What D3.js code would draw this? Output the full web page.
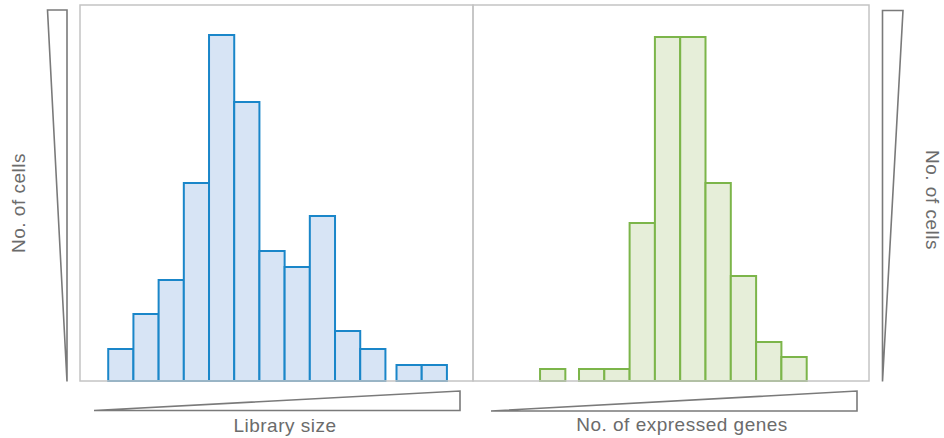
<!DOCTYPE html>
<html>
<head>
<meta charset="utf-8">
<script src="https://cdn.jsdelivr.net/npm/d3@7"></script>
<style>
  html, body { margin: 0; padding: 0; background: #fff; }
  svg { display: block; }
  text { font-family: "Liberation Sans", Arial, Helvetica, sans-serif; fill: #6b6b6b; letter-spacing: 0.5px; }
</style>
</head>
<body>
<svg id="chart" width="944" height="438"></svg>
<script>
// ---- data (bin start in arbitrary units, bin width = 1; counts in arbitrary units) ----
const libraryBinStarts = [1.12, 2.12, 3.12, 4.12, 5.12, 6.12, 7.12, 8.12, 9.12, 10.12, 11.12, 12.56, 13.56];
const libraryCounts    = [32, 67, 101, 198, 346, 279, 130, 114, 165, 50, 32, 16, 16];
const genesBinStarts   = [2.65, 4.19, 5.19, 6.19, 7.19, 8.19, 9.19, 10.19, 11.19, 12.19];
const genesCounts      = [12, 12, 12, 158, 344, 344, 198, 105, 39, 24];
const xLabels = ["Library size", "No. of expressed genes"];
const yLabel = "No. of cells";

const svg = d3.select("#chart");
const plotTop = 5, plotBottom = 381;
const panels = [
  { x0: 80, x1: 473, domainMax: 393 / 25.2, starts: libraryBinStarts, counts: libraryCounts,
    stroke: "#1a86c9", fill: "#d7e4f5", label: xLabels[0] },
  { x0: 473, x1: 869, domainMax: 396 / 25.3, starts: genesBinStarts, counts: genesCounts,
    stroke: "#7cb54a", fill: "#e6eed9", label: xLabels[1] }
];

const y = d3.scaleLinear().domain([0, plotBottom - plotTop]).range([plotBottom, plotTop]);

panels.forEach(p => {
  const x = d3.scaleLinear().domain([0, p.domainMax]).range([p.x0, p.x1]);
  const data = p.starts.map((s, i) => ({ s, c: p.counts[i] }));
  svg.append("g").selectAll("rect").data(data).join("rect")
    .attr("x", d => x(d.s))
    .attr("width", d => x(d.s + 1) - x(d.s))
    .attr("y", d => y(d.c))
    .attr("height", d => y(0) - y(d.c))
    .attr("fill", p.fill)
    .attr("stroke", p.stroke)
    .attr("stroke-width", 2);
  // panel frame
  svg.append("rect")
    .attr("x", p.x0).attr("y", plotTop)
    .attr("width", p.x1 - p.x0).attr("height", plotBottom - plotTop)
    .attr("fill", "none").attr("stroke", "#c4c4c4").attr("stroke-width", 1.5);
});

// wedges (decorative axis indicators)
const wedgeStyle = sel => sel.attr("fill", "none").attr("stroke", "#7a7a7a")
  .attr("stroke-width", 1.6).attr("stroke-linejoin", "miter");
const line = d3.line();
svg.append("path").attr("d", line([[47.5, 10], [67, 10], [67, 381.5]]) + "Z").call(wedgeStyle);
svg.append("path").attr("d", line([[903, 10.5], [882.5, 10.5], [882.5, 381.5]]) + "Z").call(wedgeStyle);
svg.append("path").attr("d", line([[94, 410.5], [460, 391], [460, 410.5]]) + "Z").call(wedgeStyle);
svg.append("path").attr("d", line([[491, 411], [857, 391], [857, 411]]) + "Z").call(wedgeStyle);

// labels
svg.append("text").attr("x", 285).attr("y", 432).attr("text-anchor", "middle")
  .attr("font-size", 19).text(xLabels[0]);
svg.append("text").attr("x", 682).attr("y", 431).attr("text-anchor", "middle")
  .attr("font-size", 19).text(xLabels[1]);
svg.append("text").attr("transform", "translate(25,203) rotate(-90)").attr("text-anchor", "middle")
  .attr("font-size", 19).text(yLabel);
svg.append("text").attr("transform", "translate(926,200) rotate(90)").attr("text-anchor", "middle")
  .attr("font-size", 19).text(yLabel);
</script>
</body>
</html>
